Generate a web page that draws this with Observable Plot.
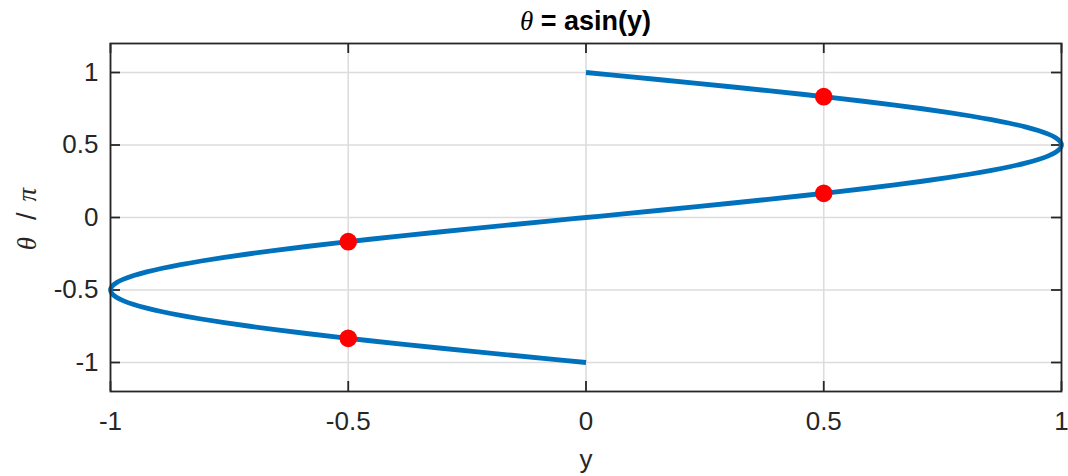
<!DOCTYPE html>
<html>
<head>
<meta charset="utf-8">
<script src="https://cdn.jsdelivr.net/npm/d3@7"></script>
<script src="https://cdn.jsdelivr.net/npm/@observablehq/plot@0.6"></script>
<style>
  html, body { margin: 0; padding: 0; background: #ffffff; }
  #chart svg { display: block; }
</style>
</head>
<body>
<div id="chart"></div>
<script>
// θ/π values along the curve
const thetaOverPi = [
  -1, -0.975, -0.95, -0.925, -0.9, -0.875, -0.85, -0.825, -0.8, -0.775,
  -0.75, -0.725, -0.7, -0.675, -0.65, -0.625, -0.6, -0.575, -0.55, -0.525,
  -0.5, -0.475, -0.45, -0.425, -0.4, -0.375, -0.35, -0.325, -0.3, -0.275,
  -0.25, -0.225, -0.2, -0.175, -0.15, -0.125, -0.1, -0.075, -0.05, -0.025,
  0, 0.025, 0.05, 0.075, 0.1, 0.125, 0.15, 0.175, 0.2, 0.225,
  0.25, 0.275, 0.3, 0.325, 0.35, 0.375, 0.4, 0.425, 0.45, 0.475,
  0.5, 0.525, 0.55, 0.575, 0.6, 0.625, 0.65, 0.675, 0.7, 0.725,
  0.75, 0.775, 0.8, 0.825, 0.85, 0.875, 0.9, 0.925, 0.95, 0.975, 1
];
// y values along the curve
const yValues = [
  0, -0.0785, -0.1564, -0.2334, -0.309, -0.3827, -0.454, -0.5225, -0.5878, -0.6494,
  -0.7071, -0.7604, -0.809, -0.8526, -0.891, -0.9239, -0.9511, -0.9724, -0.9877, -0.9969,
  -1, -0.9969, -0.9877, -0.9724, -0.9511, -0.9239, -0.891, -0.8526, -0.809, -0.7604,
  -0.7071, -0.6494, -0.5878, -0.5225, -0.454, -0.3827, -0.309, -0.2334, -0.1564, -0.0785,
  0, 0.0785, 0.1564, 0.2334, 0.309, 0.3827, 0.454, 0.5225, 0.5878, 0.6494,
  0.7071, 0.7604, 0.809, 0.8526, 0.891, 0.9239, 0.9511, 0.9724, 0.9877, 0.9969,
  1, 0.9969, 0.9877, 0.9724, 0.9511, 0.9239, 0.891, 0.8526, 0.809, 0.7604,
  0.7071, 0.6494, 0.5878, 0.5225, 0.454, 0.3827, 0.309, 0.2334, 0.1564, 0.0785, 0
];
// highlighted points
const markY = [0.5, 0.5, -0.5, -0.5];
const markTheta = [0.1667, 0.8333, -0.1667, -0.8333];
// tick labels
const xTicks = [-1, -0.5, 0, 0.5, 1];
const xTickLabels = ["-1", "-0.5", "0", "0.5", "1"];
const yTicks = [-1, -0.5, 0, 0.5, 1];
const yTickLabels = ["-1", "-0.5", "0", "0.5", "1"];

const curve = thetaOverPi.map((t, i) => ({t, y: yValues[i]}));
const marks = markY.map((y, i) => ({y, t: markTheta[i]}));
const xt = xTicks.map((v, i) => ({v, label: xTickLabels[i]}));
const yt = yTicks.map((v, i) => ({v, label: yTickLabels[i]}));

const W = 1068, H = 476;
const mL = 110, mR = 7, mT = 43, mB = 85;
const innerW = W - mL - mR, innerH = H - mT - mB;
const font = "'Liberation Sans', Arial, Helvetica, sans-serif";
const serif = "'Liberation Serif', 'DejaVu Serif', serif";
const axisColor = "#262626";
const tickFont = 26;

const plot = Plot.plot({
  width: W, height: H,
  marginLeft: mL, marginRight: mR, marginTop: mT, marginBottom: mB,
  style: {fontFamily: font, background: "#ffffff", overflow: "visible"},
  x: {domain: [-1, 1], axis: null},
  y: {domain: [-1.2, 1.2], axis: null},
  marks: [
    Plot.ruleX(xTicks, {stroke: "#dcdcdc", strokeWidth: 1.6}),
    Plot.ruleY(yTicks, {stroke: "#dcdcdc", strokeWidth: 1.6}),
    // inward ticks
    Plot.ruleX(xTicks, {stroke: axisColor, strokeWidth: 1.8, insetTop: innerH - 10}),
    Plot.ruleX(xTicks, {stroke: axisColor, strokeWidth: 1.8, insetBottom: innerH - 10}),
    Plot.ruleY(yTicks, {stroke: axisColor, strokeWidth: 1.8, insetRight: innerW - 10}),
    Plot.ruleY(yTicks, {stroke: axisColor, strokeWidth: 1.8, insetLeft: innerW - 10}),
    Plot.line(curve, {x: "y", y: "t", stroke: "#0072BD", strokeWidth: 4.8, strokeLinecap: "butt", strokeLinejoin: "round", curve: "catmull-rom"}),
    Plot.dot(marks, {x: "y", y: "t", r: 8.8, fill: "#FF0000", stroke: "none"}),
    Plot.frame({stroke: axisColor, strokeWidth: 1.8}),
    Plot.text(xt, {x: "v", text: "label", frameAnchor: "bottom", dy: 30, lineAnchor: "middle", textAnchor: "middle", fontSize: tickFont, fill: axisColor}),
    Plot.text(yt, {y: "v", text: "label", frameAnchor: "left", dx: -12, lineAnchor: "middle", textAnchor: "end", fontSize: tickFont, fill: axisColor}),
    Plot.text(["y"], {frameAnchor: "bottom", dy: 68, lineAnchor: "middle", textAnchor: "middle", fontSize: tickFont, fill: axisColor})
  ]
});

const svg = d3.select(plot);
// title
const title = svg.append("text")
  .attr("x", (mL + (W - mR)) / 2).attr("y", 30)
  .attr("text-anchor", "middle")
  .attr("fill", "#000000")
  .style("font-size", "27px");
title.append("tspan").text("θ")
  .style("font-family", serif)
  .style("font-style", "italic");
title.append("tspan").text(" = asin(y)")
  .style("font-family", font)
  .style("font-weight", "bold");
// y label
const ylab = svg.append("text")
  .attr("transform", `translate(36, ${mT + innerH / 2 + 2}) rotate(-90)`)
  .attr("text-anchor", "middle")
  .attr("fill", axisColor)
  .style("font-size", "27px")
  .style("font-family", serif);
ylab.append("tspan").text("θ").style("font-style", "italic");
ylab.append("tspan").attr("dx", 17).text("/").style("font-family", font);
ylab.append("tspan").attr("dx", 11).text("π").style("font-style", "italic");

document.getElementById("chart").appendChild(plot);
</script>
</body>
</html>
